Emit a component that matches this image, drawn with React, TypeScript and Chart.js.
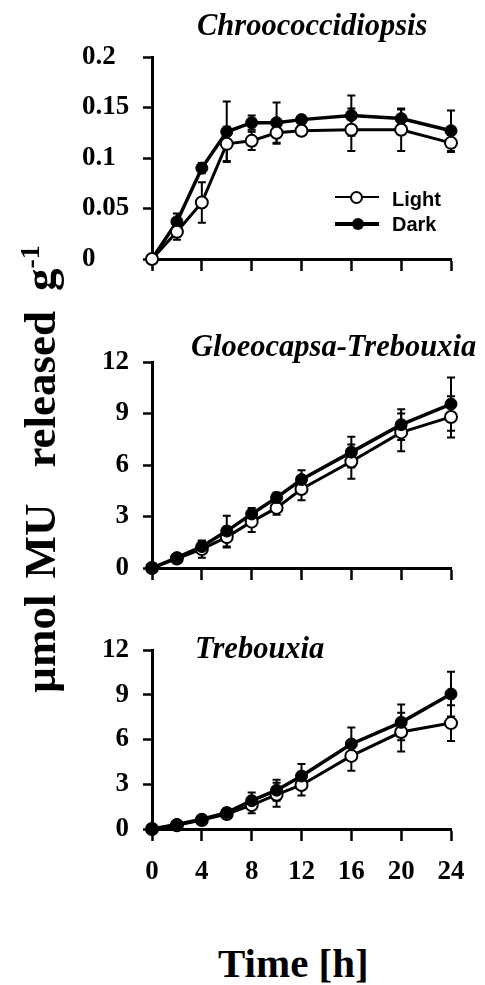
import React, { useEffect, useRef } from "react";
import { Chart, registerables } from "chart.js";

Chart.register(...registerables);

// ---------- data ----------
const hours = [0, 2, 4, 6, 8, 10, 12, 16, 20, 24];
const xTicks = [0, 4, 8, 12, 16, 20, 24];
const xTickLabels = ["0", "4", "8", "12", "16", "20", "24"];

const chrooTicks = [0, 0.05, 0.1, 0.15, 0.2];
const chrooTickLabels = ["0", "0.05", "0.1", "0.15", "0.2"];
const chrooLight = [0, 0.027, 0.056, 0.114, 0.117, 0.125, 0.127, 0.128, 0.128, 0.115];
const chrooLightErr = [0, 0.008, 0.02, 0.017, 0.009, 0.011, 0.003, 0.021, 0.021, 0.009];
const chrooDark = [0, 0.037, 0.09, 0.126, 0.135, 0.135, 0.138, 0.142, 0.139, 0.127];
const chrooDarkErr = [0, 0.008, 0.005, 0.03, 0.007, 0.02, 0.004, 0.02, 0.009, 0.02];

const umolTicks = [0, 3, 6, 9, 12];
const umolTickLabels = ["0", "3", "6", "9", "12"];

const glLight = [0, 0.55, 1.1, 1.8, 2.7, 3.5, 4.6, 6.2, 7.9, 8.8];
const glLightErr = [0, 0.1, 0.5, 0.6, 0.6, 0.4, 0.65, 1.0, 1.1, 1.2];
const glDark = [0, 0.6, 1.25, 2.15, 3.15, 4.1, 5.15, 6.75, 8.35, 9.55];
const glDarkErr = [0, 0.1, 0.3, 0.9, 0.35, 0.3, 0.55, 0.9, 0.9, 1.55];

const trLight = [0, 0.25, 0.6, 1.0, 1.6, 2.3, 2.95, 4.9, 6.5, 7.1];
const trLightErr = [0, 0.05, 0.1, 0.3, 0.55, 0.8, 0.7, 1.0, 1.3, 1.2];
const trDark = [0, 0.3, 0.65, 1.1, 1.9, 2.6, 3.55, 5.7, 7.15, 9.05];
const trDarkErr = [0, 0.05, 0.1, 0.3, 0.55, 0.7, 0.8, 1.1, 1.2, 1.5];

const titles = ["Chroococcidiopsis", "Gloeocapsa-Trebouxia", "Trebouxia"];
const seriesNames = ["Light", "Dark"];
const yAxisWords = ["µmol", "MU", "released", "g"];
const yAxisSup = "-1";
const xAxisTitle = "Time [h]";

// ---------- styles ----------
const SERIF = '"Liberation Serif", "Times New Roman", Times, serif';
const SANS = '"Liberation Sans", Arial, Helvetica, sans-serif';

const errorBarPlugin = {
  id: "errorBars",
  beforeDatasetsDraw(chart: any) {
    const ctx = chart.ctx;
    const xs = chart.scales.x;
    const ys = chart.scales.y;
    ctx.save();
    ctx.strokeStyle = "#000";
    ctx.lineWidth = 2;
    chart.data.datasets.forEach((ds: any) => {
      const errs: number[] = ds.errors || [];
      ds.data.forEach((p: any, j: number) => {
        const e = errs[j];
        if (!e) return;
        const x = xs.getPixelForValue(p.x);
        const yt = ys.getPixelForValue(p.y + e);
        const yb = ys.getPixelForValue(p.y - e);
        ctx.beginPath();
        ctx.moveTo(x, yt);
        ctx.lineTo(x, yb);
        ctx.moveTo(x - 4, yt);
        ctx.lineTo(x + 4, yt);
        ctx.moveTo(x - 4, yb);
        ctx.lineTo(x + 4, yb);
        ctx.stroke();
      });
    });
    ctx.restore();
  },
};

type PanelProps = {
  top: number;
  padTop: number;
  xHeight: number;
  showX: boolean;
  crossAlign: "near" | "far";
  yMax: number;
  yTicks: number[];
  yLabels: string[];
  light: number[];
  lightErr: number[];
  dark: number[];
  darkErr: number[];
  lightOnTop: boolean;
};

function Panel(props: PanelProps) {
  const ref = useRef<HTMLCanvasElement>(null);
  useEffect(() => {
    const tickFont = { family: SERIF, size: 27, weight: "bold" as const };
    const chart = new Chart(ref.current as HTMLCanvasElement, {
      type: "line",
      data: {
        datasets: [
          {
            label: seriesNames[0],
            data: hours.map((h, i) => ({ x: h, y: props.light[i] })),
            errors: props.lightErr,
            borderColor: "#000",
            borderWidth: 3,
            pointRadius: 6,
            pointHoverRadius: 6,
            pointBackgroundColor: "#fff",
            pointBorderColor: "#000",
            pointBorderWidth: 2,
            tension: 0,
            clip: false,
            order: props.lightOnTop ? 0 : 1,
          } as any,
          {
            label: seriesNames[1],
            data: hours.map((h, i) => ({ x: h, y: props.dark[i] })),
            errors: props.darkErr,
            borderColor: "#000",
            borderWidth: 3.5,
            pointRadius: 6,
            pointHoverRadius: 6,
            pointBackgroundColor: "#000",
            pointBorderColor: "#000",
            pointBorderWidth: 1,
            tension: 0,
            clip: false,
            order: props.lightOnTop ? 1 : 0,
          } as any,
        ],
      },
      options: {
        animation: false,
        responsive: false,
        events: [],
        layout: { padding: { top: props.padTop, left: 82, right: 34, bottom: 0 } },
        plugins: {
          legend: { display: false },
          tooltip: { enabled: false },
          title: { display: false },
        },
        scales: {
          x: {
            type: "linear",
            min: 0,
            max: 24,
            afterBuildTicks: (s: any) => {
              s.ticks = xTicks.map((v) => ({ value: v }));
            },
            afterFit: (s: any) => {
              s.height = props.xHeight;
            },
            ticks: {
              display: props.showX,
              padding: 15,
              maxRotation: 0,
              autoSkip: false,
              color: "#000",
              font: tickFont,
              callback: (_v: any, i: number) => xTickLabels[i],
            },
            grid: {
              display: true,
              drawOnChartArea: false,
              drawTicks: true,
              tickLength: 12,
              tickWidth: 2.5,
              tickColor: "#000",
            },
            border: { display: true, color: "#000", width: 3 },
          },
          y: {
            type: "linear",
            min: 0,
            max: props.yMax,
            afterBuildTicks: (s: any) => {
              s.ticks = props.yTicks.map((v) => ({ value: v }));
            },
            afterFit: (s: any) => {
              s.width = 70;
            },
            ticks: {
              crossAlign: props.crossAlign,
              padding: 14,
              autoSkip: false,
              color: "#000",
              font: tickFont,
              callback: (_v: any, i: number) => props.yLabels[i],
            },
            grid: {
              display: true,
              drawOnChartArea: false,
              drawTicks: true,
              tickLength: 9,
              tickWidth: 2.5,
              tickColor: "#000",
            },
            border: { display: true, color: "#000", width: 3 },
          },
        },
      } as any,
      plugins: [errorBarPlugin],
    });
    return () => chart.destroy();
  }, []);
  return (
    <div style={{ position: "absolute", left: 0, top: props.top, width: 485, height: 300 }}>
      <canvas ref={ref} width={485} height={300} style={{ display: "block" }} />
    </div>
  );
}

const titleStyle: React.CSSProperties = {
  position: "absolute",
  font: `italic bold 30.5px ${SERIF}`,
  lineHeight: "30.5px",
  whiteSpace: "nowrap",
  color: "#000",
};

const legendText: React.CSSProperties = {
  position: "absolute",
  font: `bold 20px ${SANS}`,
  lineHeight: "20px",
  color: "#000",
  whiteSpace: "nowrap",
};

export default function App() {
  return (
    <div
      style={{
        position: "absolute",
        left: 0,
        top: 0,
        width: 485,
        height: 985,
        background: "#fff",
        overflow: "hidden",
      }}
    >
      <Panel
        top={0}
        padTop={57}
        xHeight={41}
        showX={false}
        crossAlign="far"
        yMax={0.2}
        yTicks={chrooTicks}
        yLabels={chrooTickLabels}
        light={chrooLight}
        lightErr={chrooLightErr}
        dark={chrooDark}
        darkErr={chrooDarkErr}
        lightOnTop={true}
      />
      <Panel
        top={300}
        padTop={62}
        xHeight={32}
        showX={false}
        crossAlign="near"
        yMax={12}
        yTicks={umolTicks}
        yLabels={umolTickLabels}
        light={glLight}
        lightErr={glLightErr}
        dark={glDark}
        darkErr={glDarkErr}
        lightOnTop={false}
      />
      <Panel
        top={600}
        padTop={50}
        xHeight={71}
        showX={true}
        crossAlign="near"
        yMax={12}
        yTicks={umolTicks}
        yLabels={umolTickLabels}
        light={trLight}
        lightErr={trLightErr}
        dark={trDark}
        darkErr={trDarkErr}
        lightOnTop={false}
      />

      {/* panel titles */}
      <div style={{ ...titleStyle, left: 197, top: 9.5 }}>{titles[0]}</div>
      <div style={{ ...titleStyle, left: 191, top: 331 }}>{titles[1]}</div>
      <div style={{ ...titleStyle, left: 195, top: 632.5 }}>{titles[2]}</div>

      {/* legend */}
      <div style={{ position: "absolute", left: 335, top: 196, width: 44, height: 2, background: "#000" }} />
      <div
        style={{
          position: "absolute",
          left: 350,
          top: 191,
          width: 9,
          height: 9,
          borderRadius: "50%",
          border: "2px solid #000",
          background: "#fff",
        }}
      />
      <div style={{ ...legendText, left: 392, top: 189 }}>{seriesNames[0]}</div>
      <div style={{ position: "absolute", left: 335, top: 222, width: 44, height: 4, background: "#000" }} />
      <div
        style={{
          position: "absolute",
          left: 352,
          top: 218,
          width: 12,
          height: 12,
          borderRadius: "50%",
          background: "#000",
        }}
      />
      <div style={{ ...legendText, left: 392, top: 214 }}>{seriesNames[1]}</div>

      {/* y-axis title (reads bottom to top) */}
      <div
        style={{
          position: "absolute",
          left: 18,
          top: 693,
          transformOrigin: "0 0",
          transform: "rotate(-90deg)",
          font: `bold 45px ${SERIF}`,
          lineHeight: "45px",
          whiteSpace: "nowrap",
          color: "#000",
        }}
      >
        <span>{yAxisWords[0]}</span>
        <span style={{ marginLeft: 16 }}>{yAxisWords[1]}</span>
        <span style={{ marginLeft: 36 }}>{yAxisWords[2]}</span>
        <span style={{ marginLeft: 20 }}>{yAxisWords[3]}</span>
        <span style={{ fontSize: 28, position: "relative", top: -16 }}>{yAxisSup}</span>
      </div>

      {/* x-axis title */}
      <div
        style={{
          position: "absolute",
          left: 218,
          top: 943,
          font: `bold 41px ${SERIF}`,
          lineHeight: "41px",
          whiteSpace: "nowrap",
          color: "#000",
        }}
      >
        {xAxisTitle}
      </div>
    </div>
  );
}
